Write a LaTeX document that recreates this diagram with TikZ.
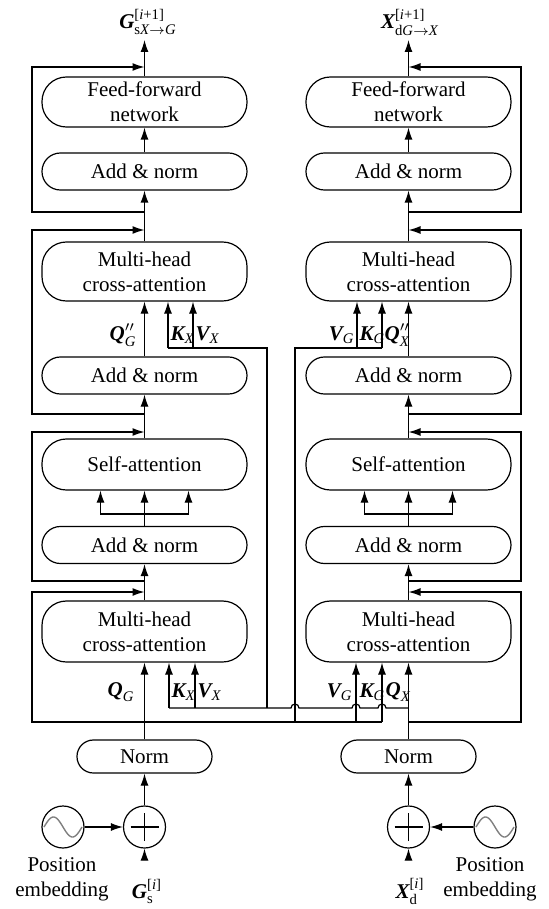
\documentclass[tikz,border=0pt]{standalone}
\usepackage{fontspec}
\setmainfont{Liberation Serif}
\usepackage{amsmath}
\usetikzlibrary{arrows.meta}
\newcommand{\bv}[1]{\text{\bfseries\itshape #1}}
\newcommand{\iv}[1]{\text{\itshape #1}}
\begin{document}
\begin{tikzpicture}[x=0.5pt, y=-0.5pt, line width=0.6pt,
  >={Latex[length=6pt,width=4pt]},
  every node/.style={font=\fontsize{10.5}{12.5}\selectfont},
  blk/.style={draw, rectangle, rounded corners=#1, inner sep=0pt, align=center, minimum width=102.5pt},
  blk/.default=12.2pt,
  anbox/.style={blk=9.2pt, minimum height=18.5pt},
  nrmbox/.style={blk=8.2pt, minimum height=16.5pt, minimum width=67.5pt},
  ring/.style={draw, circle, inner sep=0pt, minimum size=21pt},
  lbl/.style={inner sep=0pt},
  wave/.style={draw=gray, line width=0.7pt}]
\useasboundingbox (0,0) rectangle (549,909);

% two encoder-like columns
\foreach \s/\cx/\lx in {L/144.5/32, R/408.5/521}{
  \node[blk, minimum height=25pt] (\s ffn) at (\cx,102) {Feed-forward\\network};
  \node[anbox] (\s an1) at (\cx,171.5) {Add \& norm};
  \node[blk, minimum height=29.5pt] (\s ca2) at (\cx,271.5) {Multi-head\\cross-attention};
  \node[anbox] (\s an2) at (\cx,375.5) {Add \& norm};
  \node[blk, minimum height=25.5pt] (\s sa) at (\cx,464.5) {Self-attention};
  \node[anbox] (\s an3) at (\cx,545) {Add \& norm};
  \node[blk, minimum height=30.5pt] (\s ca1) at (\cx,631.5) {Multi-head\\cross-attention};
  \node[nrmbox] (\s nrm) at (\cx,756.5) {Norm};
  \node[ring] (\s sum) at (\cx,827) {};
  \draw ([xshift=-7pt]\s sum.center) -- ([xshift=7pt]\s sum.center);
  \draw ([yshift=-7pt]\s sum.center) -- ([yshift=7pt]\s sum.center);

  \coordinate (\s out) at (\cx,40);
  \coordinate (\s in) at (\cx,858);
  \coordinate (\s sp) at (\cx,514);
  % residual taps and joins on the main line
  \coordinate (\s t1) at (\cx,212); \coordinate (\s j1) at (\cx,67);
  \coordinate (\s t2) at (\cx,414); \coordinate (\s j2) at (\cx,230);
  \coordinate (\s t3) at (\cx,581); \coordinate (\s j3) at (\cx,432);
  \coordinate (\s t4) at (\cx,722); \coordinate (\s j4) at (\cx,592);

  % main flow
  \draw[->] (\s in) -- (\s sum.south);
  \draw[->] (\s sum.north) -- (\s nrm.south);
  \draw[->] (\s nrm.north) -- (\s ca1.south);
  \draw[->] (\s ca1.north) -- (\s an3.south);
  \draw (\s an3.north) -- (\s sp);
  \draw[->] (\s sp) -- (\s sa.south);
  \draw[->] (\s sp) -| ([xshift=-22pt]\s sa.south);
  \draw[->] (\s sp) -| ([xshift=22pt]\s sa.south);
  \draw[->] (\s sa.north) -- (\s an2.south);
  \draw[->] (\s an2.north) -- (\s ca2.south);
  \draw[->] (\s ca2.north) -- (\s an1.south);
  \draw[->] (\s an1.north) -- (\s ffn.south);
  \draw[->] (\s ffn.north) -- (\s out);

  % residual loops
  \draw[->] (\s t1) -- (\lx,212) |- (\s j1);
  \draw[->] (\s t2) -- (\lx,414) |- (\s j2);
  \draw[->] (\s t3) -- (\lx,581) |- (\s j3);
  \draw[->] (\s t4) -- (\lx,722) |- (\s j4);
}

% position embeddings
\node[ring] (Lpe) at (63,827) {};
\node[ring] (Rpe) at (495,827) {};
\draw[wave] plot[domain=0:1, samples=60] ({63-19+38*\x},{827-10*sin(360*\x)});
\draw[wave] plot[domain=0:1, samples=60] ({495-19+38*\x},{827-10*sin(360*\x)});
\draw[->] (Lpe) -- (Lsum);
\draw[->] (Rpe) -- (Rsum);
\node[align=center, anchor=north, inner sep=0pt] (Lpet) at (62,857) {Position\\embedding};
\node[align=center, anchor=north, inner sep=0pt] (Rpet) at (490,857) {Position\\embedding};

% key/value feeds of the upper cross-attention blocks
\coordinate (kxU) at (168,348); \coordinate (vxU) at (193,348);
\coordinate (cL) at (267,348); \coordinate (cL2) at (267,708);
\draw[->] (kxU) -- (kxU |- Lca2.south);
\draw[->] (vxU) -- (vxU |- Lca2.south);
\draw (kxU) -- (cL) -- (cL2);

\coordinate (vgU) at (357,348); \coordinate (kgU) at (382,348);
\coordinate (cR) at (295,348); \coordinate (cR2) at (295,722);
\draw[->] (vgU) -- (vgU |- Rca2.south);
\draw[->] (kgU) -- (kgU |- Rca2.south);
\draw (kgU) -- (cR) -- (cR2);

% key/value feeds of the lower cross-attention blocks
\coordinate (kxL) at (169,708); \coordinate (vxL) at (195,708);
\coordinate (Rtap) at (408.5,708);
\draw[->] (kxL) -- (kxL |- Lca1.south);
\draw[->] (vxL) -- (vxL |- Lca1.south);
\draw (kxL) -- (291,708) arc[start angle=180, end angle=0, radius=2pt]
  -- (352,708) arc[start angle=180, end angle=0, radius=2pt]
  -- (378,708) arc[start angle=180, end angle=0, radius=2pt]
  -- (Rtap);

\coordinate (vgL) at (356,722); \coordinate (kgL) at (382,722);
\draw (Lt4) -- (kgL);
\draw[->] (vgL) -- (vgL |- Rca1.south);
\draw[->] (kgL) -- (kgL |- Rca1.south);

% labels
\node[lbl, anchor=base] (Gout) at (148,29) {$\bv{G}^{\text{[{\itshape i}+1]}}_{\text{s{\itshape X}}\to\iv{G}}$};
\node[lbl, anchor=base] (Xout) at (410,29) {$\bv{X}^{\text{[{\itshape i}+1]}}_{\text{d{\itshape G}}\to\iv{X}}$};
\node[lbl, anchor=base] (Gin) at (147,898) {$\bv{G}^{\text{[{\itshape i}]}}_{\text{s}}$};
\node[lbl, anchor=base] (Xin) at (410,898) {$\bv{X}^{\text{[{\itshape i}]}}_{\text{d}}$};

\node[lbl, anchor=east] (qg2) at (137,335) {$\bv{Q}''_{\iv{G}}$};
\node[lbl, anchor=west] (kx2) at (170,335) {$\bv{K}_{\iv{X}}$};
\node[lbl, anchor=west] (vx2) at (195,335) {$\bv{V}_{\iv{X}}$};
\node[lbl, anchor=east] (vg2) at (355,335) {$\bv{V}_{\iv{G}}$};
\node[lbl, anchor=west] (kg2) at (359,335) {$\bv{K}_{\iv{G}}$};
\node[lbl, anchor=west] (qx2) at (384,335) {$\bv{Q}''_{\iv{X}}$};

\node[lbl, anchor=east] (qg1) at (135,692) {$\bv{Q}_{\iv{G}}$};
\node[lbl, anchor=west] (kx1) at (171,692) {$\bv{K}_{\iv{X}}$};
\node[lbl, anchor=west] (vx1) at (197,692) {$\bv{V}_{\iv{X}}$};
\node[lbl, anchor=east] (vg1) at (353,692) {$\bv{V}_{\iv{G}}$};
\node[lbl, anchor=west] (kg1) at (359,692) {$\bv{K}_{\iv{G}}$};
\node[lbl, anchor=west] (qx1) at (385,692) {$\bv{Q}_{\iv{X}}$};
\end{tikzpicture}
\end{document}
